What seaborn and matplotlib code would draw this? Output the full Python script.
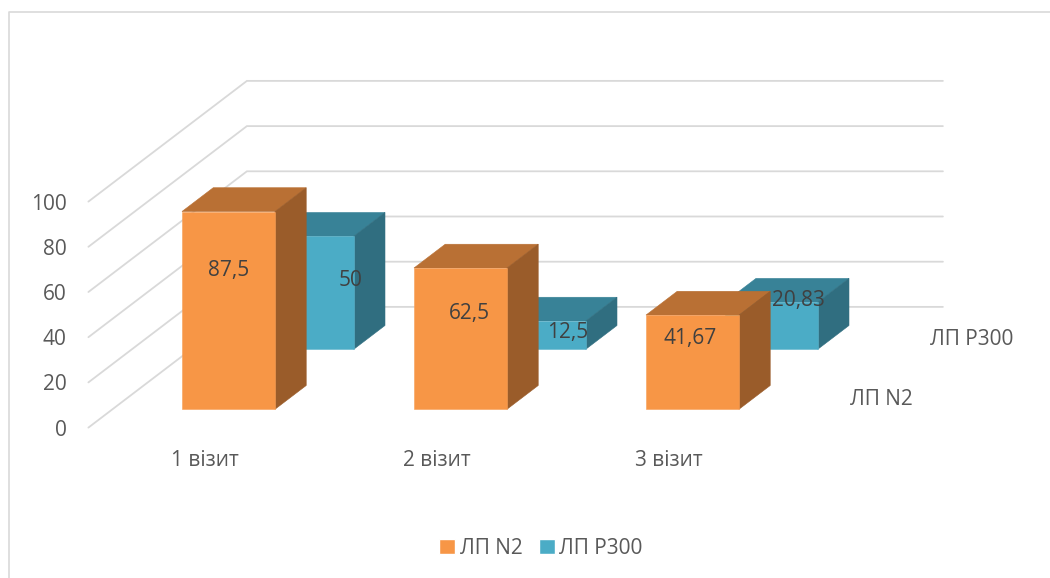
import matplotlib
matplotlib.use("Agg")
import matplotlib.pyplot as plt
from matplotlib.lines import Line2D
from matplotlib.patches import Patch
from matplotlib.transforms import ScaledTranslation
import numpy as np
import pandas as pd
import seaborn as sns

# Chart values
visits = ["1 візит", "2 візит", "3 візит"]
series_names = ["ЛП N2", "ЛП Р300"]
values_n2 = [87.5, 62.5, 41.67]
values_p300 = [50, 12.5, 20.83]
value_ticks = [0, 20, 40, 60, 80, 100]

# Figure geometry in pixels
W, H = 1050, 578
PX_PER_CAT = 232
PX_PER_UNIT = 2.26
ORIGIN_X, ORIGIN_Y = 204.4, 427.6
# Oblique projection: how far the back wall sits from the front plane
WALL_DX = 158.5 / PX_PER_CAT
WALL_DY = 120.7 / PX_PER_UNIT
BAR_WIDTH = 93 / PX_PER_CAT

GRID = "#d9d9d9"
TEXT = "#595959"
LABEL = "#404040"
FONT = 15

sns.set_theme(style="white")
plt.rcParams["font.family"] = ["Open Sans", "DejaVu Sans"]

fig = plt.figure(figsize=(W / 100, H / 100), dpi=100, facecolor="white")
ax = fig.add_axes([0, 0, 1, 1])


def project(pos, value, depth):
    """Map a (category, value, depth) point onto the flat axes."""
    return pos + WALL_DX * depth, value + WALL_DY * depth


def draw_box_series(values, depth_front, depth_back, colors, shifts):
    front, top, side, edge = colors
    positions = np.arange(len(values), dtype=float)
    xf, bottom = project(positions, 0.0, depth_front)
    frame = pd.DataFrame({"pos": xf, "value": values})
    half = BAR_WIDTH / 2
    # Side and top faces are projected back from each bar's front edge
    for p, v in zip(positions, values):
        x0, y0 = project(p - half, v, depth_front)
        x1, y1 = project(p + half, v, depth_front)
        x2, y2 = project(p + half, v, depth_back)
        x3, y3 = project(p - half, v, depth_back)
        ax.fill([x0, x1, x2, x3], [y0, y1, y2, y3], fc=top, ec=top, lw=0.4)
        xb, yb = project(p + half, 0, depth_front)
        xc, yc = project(p + half, 0, depth_back)
        ax.fill([x1, x2, xc, xb], [y1, y2, yc, yb], fc=side, ec=side, lw=0.4)
    sns.barplot(data=frame, x="pos", y="value", native_scale=True, width=BAR_WIDTH,
                bottom=bottom, color=front, saturation=1, edgecolor=edge,
                linewidth=0.4, ax=ax)
    return xf, bottom, shifts


# Back wall and left wall gridlines with the value axis labels
tick_shift = ax.transData + ScaledTranslation(-22 / 100, 0, fig.dpi_scale_trans)
for tick in value_ticks:
    x0, y0 = project(-0.5, tick, 0)
    x1, y1 = project(-0.5, tick, 1)
    x2, y2 = project(2.5, tick, 1)
    ax.plot([x0, x1, x2], [y0, y1, y2], color=GRID, lw=1.3, zorder=0.5,
            solid_joinstyle="miter")
    ax.text(x0, y0, f"{tick}", ha="right", va="center_baseline",
            color=TEXT, fontsize=FONT, transform=tick_shift)

# Rear series first so the front series covers it
teal = ("#4bacc6", "#388297", "#306e80", "#5fb4cb")
orange = ("#f79646", "#b97034", "#9a5c2a", "#f79f58")
rear = draw_box_series(values_p300, 0.649, 0.846, teal,
                       [(43, -42), (28, -9), (27, 4)])
fore = draw_box_series(values_n2, 0.152, 0.349, orange,
                       [(0, -56), (9, -43), (-2, -21)])

# Value labels
for (xf, bottom, shifts), vals in ((rear, values_p300), (fore, values_n2)):
    for x, v, shift in zip(xf, vals, shifts):
        ax.annotate(str(v).replace(".", ","), (x, v + bottom), xytext=shift,
                    textcoords="offset pixels", ha="center", va="center_baseline",
                    color=LABEL, fontsize=FONT, zorder=6)

# Category labels under the floor
for i, name in enumerate(visits):
    ax.annotate(name, (i, 0), xytext=(0, -30), textcoords="offset pixels",
                ha="center", va="center_baseline", color=TEXT, fontsize=FONT)

# Series names along the depth axis
for name, depth, pad in ((series_names[0], 0.25, 57), (series_names[1], 0.75, 68)):
    ax.annotate(name, project(2.5, 0, depth), xytext=(pad, 0),
                textcoords="offset pixels", ha="center", va="center_baseline",
                color=TEXT, fontsize=FONT)

ax.set_xlim(-ORIGIN_X / PX_PER_CAT, (W - ORIGIN_X) / PX_PER_CAT)
ax.set_ylim((ORIGIN_Y - H) / PX_PER_UNIT, ORIGIN_Y / PX_PER_UNIT)
ax.axis("off")

# Chart frame, cut off by the right and bottom edges
fig.add_artist(Line2D([8.5 / W, 8.5 / W, 1], [0, 1 - 12 / H, 1 - 12 / H],
                      color=GRID, lw=1.2, transform=fig.transFigure))

handles = [Patch(fc=orange[0], label=series_names[0]),
           Patch(fc=teal[0], label=series_names[1])]
fig.legend(handles=handles, loc="center", bbox_to_anchor=(541 / W, 1 - 548 / H), ncol=2,
           frameon=False, fontsize=FONT, labelcolor=TEXT, handlelength=0.75,
           handleheight=0.75, handletextpad=0.22, columnspacing=0.8, borderpad=0)

fig.savefig("out.png", dpi=100, facecolor="white")
